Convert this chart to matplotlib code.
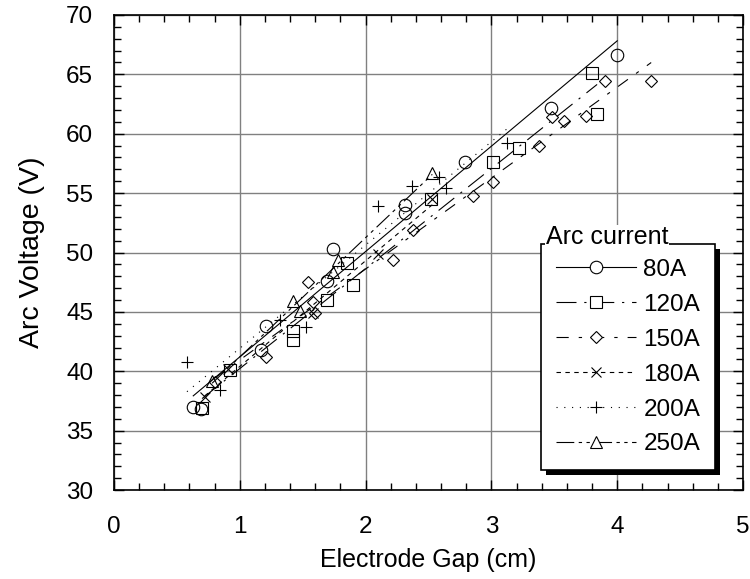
import numpy as np
import matplotlib
matplotlib.use("Agg")
import matplotlib.pyplot as plt
from matplotlib.patches import Rectangle

plt.rcParams["font.family"] = ["Liberation Sans", "DejaVu Sans"]

# arc voltage vs electrode gap, one series per arc current
gap_80 = [0.63, 0.69, 1.17, 1.21, 1.69, 1.74, 2.31, 2.31, 2.79, 3.47, 4.00]
volt_80 = [37.0, 36.8, 41.8, 43.8, 47.6, 50.3, 54.0, 53.3, 57.6, 62.2, 66.6]

gap_120 = [0.70, 0.92, 1.42, 1.42, 1.69, 1.85, 1.90, 2.52, 3.01, 3.22, 3.80, 3.84]
volt_120 = [36.9, 40.1, 43.4, 42.6, 46.0, 49.1, 47.3, 54.5, 57.6, 58.8, 65.1, 61.7]

gap_150 = [0.80, 1.21, 1.54, 1.58, 1.60, 2.22, 2.38, 2.85, 3.01, 3.38,
           3.48, 3.58, 3.75, 3.90, 4.27]
volt_150 = [39.1, 41.2, 47.5, 45.8, 44.9, 49.4, 51.9, 54.8, 55.9, 59.0,
            61.4, 61.1, 61.5, 64.4, 64.4]

gap_180 = [0.72, 0.91, 1.58, 2.10, 2.53]
volt_180 = [37.8, 40.2, 44.9, 49.9, 54.5]

gap_200 = [0.58, 0.84, 1.32, 1.53, 2.10, 2.37, 2.58, 2.64, 3.12]
volt_200 = [40.8, 38.4, 44.3, 43.7, 53.9, 55.6, 56.4, 55.4, 59.2]

gap_250 = [0.78, 1.42, 1.48, 1.74, 1.78, 2.53]
volt_250 = [39.2, 45.9, 45.1, 48.4, 49.4, 56.7]

labels = ["80A", "120A", "150A", "180A", "200A", "250A"]
markers = ["o", "s", "D", "x", "+", "^"]
dashes = ["-", (0, (18, 7, 2, 7)), (0, (11, 9, 3, 9)), (0, (4, 4)),
          (0, (1, 6)), (0, (16, 4, 3, 4, 3, 4))]
marker_sizes = [9, 9, 6.5, 7, 9, 9]

series = [(gap_80, volt_80), (gap_120, volt_120), (gap_150, volt_150),
          (gap_180, volt_180), (gap_200, volt_200), (gap_250, volt_250)]

FS = 17.5

fig = plt.figure(figsize=(7.5, 5.79), dpi=100)
ax = fig.add_axes([0.152, 0.1537, 0.8387, 0.8204])

handles = []
for (x, y), lab, mk, ls, ms in zip(series, labels, markers, dashes, marker_sizes):
    x = np.asarray(x)
    y = np.asarray(y)
    # least-squares line across the measured range
    k, b = np.polyfit(x, y, 1)
    xf = np.array([x.min(), x.max()])
    ax.plot(xf, k * xf + b, color="black", lw=0.8, linestyle=ls, zorder=3)
    ax.plot(x, y, linestyle="none", marker=mk, ms=ms, mfc="none",
            mec="black", mew=0.8, zorder=4)
    h, = ax.plot([], [], color="black", lw=0.8, linestyle=ls, marker=mk,
                 ms=ms, mfc="white", mec="black", mew=0.8)
    handles.append(h)

ax.set_xlim(0, 5)
ax.set_ylim(30, 70)
ax.set_xticks(np.arange(0, 6, 1))
ax.set_xticks(np.arange(0, 5.01, 0.2), minor=True)
ax.set_yticks(np.arange(30, 71, 5))
ax.set_yticks(np.arange(30, 71, 1), minor=True)
ax.grid(True, which="major", color="#808080", lw=1.0, zorder=0)
ax.tick_params(which="both", direction="in", top=True, right=True,
               labelsize=FS, width=1.0, color="black")
ax.tick_params(which="major", length=7)
ax.tick_params(which="minor", length=5)
ax.tick_params(axis="x", which="major", pad=19)
ax.tick_params(axis="y", which="major", pad=15)
for sp in ax.spines.values():
    sp.set_linewidth(1.2)

ax.set_xlabel("Electrode Gap (cm)", fontsize=18, labelpad=7)
ax.set_ylabel("Arc Voltage (V)", fontsize=20.5, labelpad=15)

leg = ax.legend(handles, labels, loc="lower right",
                bbox_to_anchor=(0.955, 0.042), borderaxespad=0,
                fontsize=FS, frameon=True,
                fancybox=False, edgecolor="black", framealpha=1,
                handlelength=3.3, handletextpad=0.3, labelspacing=0.53,
                borderpad=0.6, numpoints=1)
leg.get_frame().set_linewidth(1.2)
leg.set_zorder(10)

# drop shadow and title sitting on the top edge of the legend box
fig.canvas.draw()
bb = leg.get_frame().get_window_extent()
inv = ax.transAxes.inverted()
(x0, y0), (x1, y1) = inv.transform([[bb.x0, bb.y0], [bb.x1, bb.y1]])
dx = 5 / ax.bbox.width
dy = 5 / ax.bbox.height
ax.add_patch(Rectangle((x0 + dx, y0 - dy), x1 - x0, y1 - y0,
                       transform=ax.transAxes, facecolor="black",
                       edgecolor="none", zorder=9, clip_on=False))
ax.text(x0 + 5 / ax.bbox.width, y1, "Arc current", fontsize=FS + 0.5,
        ha="left", va="baseline", zorder=12, transform=ax.transAxes,
        bbox=dict(facecolor="white", edgecolor="none", pad=0.5))

fig.savefig("out.png", dpi=100)
